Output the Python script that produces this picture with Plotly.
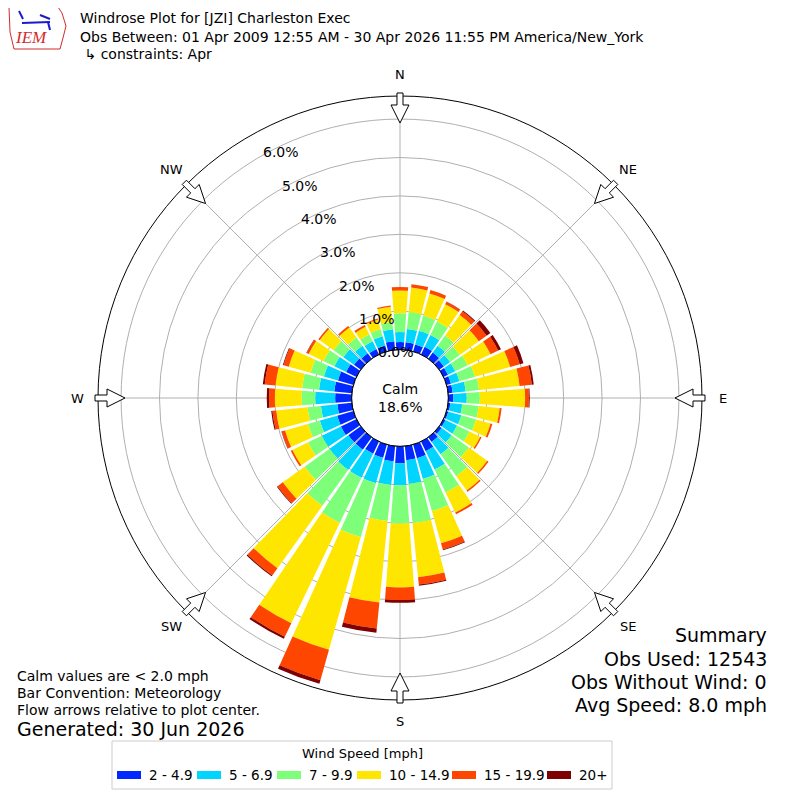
import numpy as np
import plotly.graph_objects as go

# Wind rose for JZI (Charleston Exec), April, percent of obs per 10 deg sector
directions = list(range(0, 360, 10))

bins = ["2 - 4.9", "5 - 6.9", "7 - 9.9", "10 - 14.9", "15 - 19.9", "20+"]
colors = ["#0028ff", "#00d4ff", "#7dff7a", "#ffe600", "#ff4600", "#800000"]

spd_2_5 = [0.20, 0.20, 0.19, 0.22, 0.20, 0.15, 0.13, 0.12, 0.12, 0.13, 0.06, 0.05,
           0.06, 0.08, 0.15, 0.28, 0.37, 0.37, 0.44, 0.40, 0.36, 0.35, 0.40, 0.40,
           0.45, 0.44, 0.38, 0.43, 0.46, 0.42, 0.30, 0.22, 0.18, 0.16, 0.16, 0.23]
spd_5_7 = [0.26, 0.35, 0.37, 0.34, 0.22, 0.20, 0.21, 0.23, 0.34, 0.35, 0.31, 0.35,
           0.33, 0.32, 0.40, 0.53, 0.56, 0.62, 0.57, 0.62, 0.69, 0.70, 0.65, 0.60,
           0.55, 0.47, 0.43, 0.52, 0.40, 0.38, 0.34, 0.34, 0.24, 0.22, 0.25, 0.31]
spd_7_10 = [0.49, 0.44, 0.41, 0.39, 0.33, 0.31, 0.36, 0.42, 0.35, 0.34, 0.43, 0.40,
            0.36, 0.55, 0.70, 0.66, 0.87, 1.02, 1.00, 0.94, 1.45, 1.30, 1.15, 0.80,
            0.40, 0.32, 0.35, 0.35, 0.44, 0.36, 0.31, 0.31, 0.26, 0.20, 0.19, 0.19]
spd_10_15 = [0.59, 0.64, 0.60, 0.50, 0.65, 0.61, 0.66, 0.95, 1.06, 1.18, 0.55, 0.39,
             0.31, 0.59, 0.46, 0.58, 0.87, 1.42, 1.66, 2.13, 3.05, 2.90, 2.00, 0.70,
             0.45, 0.62, 0.82, 0.70, 0.70, 0.59, 0.43, 0.45, 0.32, 0.22, 0.26, 0.40]
spd_15_20 = [0.09, 0.09, 0.09, 0.07, 0.12, 0.25, 0.22, 0.26, 0.32, 0.10, 0.05, 0.05,
             0.04, 0.04, 0.04, 0.05, 0.17, 0.19, 0.33, 0.68, 0.82, 0.39, 0.23, 0.17,
             0.05, 0.09, 0.10, 0.15, 0.28, 0.14, 0.06, 0.04, 0.05, 0.05, 0.03, 0.03]
spd_20p = [0.00, 0.00, 0.00, 0.01, 0.03, 0.12, 0.08, 0.10, 0.05, 0.02, 0.00, 0.00,
           0.00, 0.00, 0.00, 0.00, 0.02, 0.03, 0.07, 0.11, 0.10, 0.06, 0.03, 0.02,
           0.00, 0.01, 0.03, 0.06, 0.05, 0.02, 0.01, 0.00, 0.00, 0.00, 0.00, 0.00]
series = [spd_2_5, spd_5_7, spd_7_10, spd_10_15, spd_15_20, spd_20p]

rticks = [0, 1, 2, 3, 4, 5, 6]
compass = ["N", "NE", "E", "SE", "S", "SW", "W", "NW"]
calm_pct = 18.6

# page geometry: the page body has an 8px margin, so the figure is 792 wide
OFF = 8
W = H = 792
CX, CY, R = 400, 398, 302     # polar centre / radius in page pixels
HOLE = 0.16
RMAX = 6.6


def px2paper(x, y):
    return (x - OFF) / W, 1 - (y - OFF) / H


def polar_px(bearing, rpx):
    a = np.radians(bearing)
    return CX + rpx * np.sin(a), CY - rpx * np.cos(a)


def txt(x, y, text, size, xanchor="center", color="black", family=None):
    px, py = px2paper(x, y)
    f = dict(size=size, color=color)
    if family:
        f["family"] = family
    return dict(x=px, y=py, text=text, showarrow=False, xanchor=xanchor,
                yanchor="middle", font=f)


fig = go.Figure()
for name, vals, col in zip(bins, series, colors):
    fig.add_trace(go.Barpolar(r=vals, theta=directions, width=8.5, name=name,
                              marker=dict(color=col, line=dict(width=0)),
                              showlegend=False))

# black circle on the hole edge
fig.add_trace(go.Scatterpolar(r=[0] * 73, theta=list(range(0, 365, 5)), mode="lines",
                              line=dict(color="black", width=1), showlegend=False,
                              hoverinfo="skip", cliponaxis=False))

annotations = []
shapes = []

# compass labels and inward arrows
for i, lab in enumerate(compass):
    b = i * 45
    lx, ly = polar_px(b, 323)
    annotations.append(txt(lx, ly, lab, 13))
    a = np.radians(b)
    pts = [(305, -3), (293, -3), (293, -9), (275, 0), (293, 9), (293, 3), (305, 3)]
    path = ""
    for j, (rr, v) in enumerate(pts):
        x = CX + rr * np.sin(a) + v * np.cos(a)
        y = CY - rr * np.cos(a) + v * np.sin(a)
        qx, qy = px2paper(x, y)
        path += ("M" if j == 0 else "L") + f"{qx:.5f},{qy:.5f} "
    shapes.append(dict(type="path", path=path + "Z", xref="paper", yref="paper",
                       fillcolor="white", line=dict(color="black", width=1)))

# radial labels along the 330 deg bearing
rhole = HOLE * R
for k in rticks:
    rx, ry = polar_px(330, rhole + k * (R - rhole) / RMAX)
    annotations.append(txt(rx, ry - 4, f"{k:.1f}%", 14, xanchor="left"))

# calm in the middle
annotations.append(txt(CX, CY, f"Calm<br>{calm_pct}%", 14))

# header
header = ["Windrose Plot for [JZI] Charleston Exec",
          "Obs Between: 01 Apr 2009 12:55 AM - 30 Apr 2026 11:55 PM America/New_York",
          " \u21b3 constraints: Apr"]
for t, y in zip(header, [18, 37, 54]):
    annotations.append(txt(78, y, t, 14, xanchor="left"))

# logo
annotations.append(txt(31, 38, "<i>IEM</i>", 17, color="#d42a2a", family="Liberation Serif"))
iowa = [(9, 7), (58, 7), (62, 13), (66, 26), (63, 38), (60, 49), (14, 49), (10, 32)]
path = ""
for j, (x, y) in enumerate(iowa):
    qx, qy = px2paper(x, y)
    path += ("M" if j == 0 else "L") + f"{qx:.5f},{qy:.5f} "
shapes.append(dict(type="path", path=path + "Z", xref="paper", yref="paper",
                   line=dict(color="#d42a2a", width=1)))
for (x0, y0, x1, y1) in [(22, 23, 50, 22), (19, 11, 23, 19), (40, 15, 50, 19), (48, 22, 50, 30)]:
    a0, b0 = px2paper(x0, y0)
    a1, b1 = px2paper(x1, y1)
    shapes.append(dict(type="line", x0=a0, y0=b0, x1=a1, y1=b1, xref="paper", yref="paper",
                       line=dict(color="#1a1ad0", width=2)))

# notes bottom left
notes = ["Calm values are < 2.0 mph", "Bar Convention: Meteorology",
         "Flow arrows relative to plot center."]
for t, y in zip(notes, [676, 693, 710]):
    annotations.append(txt(15, y, t, 14, xanchor="left"))
annotations.append(txt(15, 729, "Generated: 30 Jun 2026", 19, xanchor="left"))

# summary bottom right
summary = ["Summary", "Obs Used: 12543", "Obs Without Wind: 0", "Avg Speed: 8.0 mph"]
for t, y in zip(summary, [635, 659, 682, 705]):
    annotations.append(txt(769, y, t, 19, xanchor="right"))

# legend drawn by hand
bx0, by0 = px2paper(112, 741)
bx1, by1 = px2paper(612, 789)
shapes.append(dict(type="rect", x0=bx0, y0=by0, x1=bx1, y1=by1, xref="paper", yref="paper",
                   line=dict(color="#cccccc", width=1), fillcolor="white"))
annotations.append(txt(362, 753, "Wind Speed [mph]", 13))
patch_x = [117, 197, 277, 357, 452, 547]
for xs, lab, col in zip(patch_x, bins, colors):
    a0, b0 = px2paper(xs, 771)
    a1, b1 = px2paper(xs + 24, 779)
    shapes.append(dict(type="rect", x0=a0, y0=b0, x1=a1, y1=b1, xref="paper", yref="paper",
                       fillcolor=col, line=dict(width=0)))
    annotations.append(txt(xs + 30, 775, lab, 13.5, xanchor="left"))

dx0, dy1 = px2paper(CX - R, CY - R)
dx1, dy0 = px2paper(CX + R, CY + R)

fig.update_layout(
    width=W, height=H,
    margin=dict(l=0, r=0, t=0, b=0),
    paper_bgcolor="white",
    font=dict(family="DejaVu Sans", color="black"),
    polar=dict(
        domain=dict(x=[dx0, dx1], y=[dy0, dy1]),
        hole=HOLE,
        bgcolor="white",
        barmode="stack",
        radialaxis=dict(range=[0, RMAX], tickvals=rticks[1:], showticklabels=False,
                        ticks="", showline=False, gridcolor="#b0b0b0", gridwidth=1,
                        layer="above traces"),
        angularaxis=dict(rotation=90, direction="clockwise", tickvals=list(range(0, 360, 45)),
                         showticklabels=False, ticks="", showline=True, linecolor="black",
                         linewidth=1, gridcolor="#b0b0b0", gridwidth=1,
                         layer="above traces"),
    ),
    annotations=annotations,
    shapes=shapes,
)

fig.write_html("out.html")
